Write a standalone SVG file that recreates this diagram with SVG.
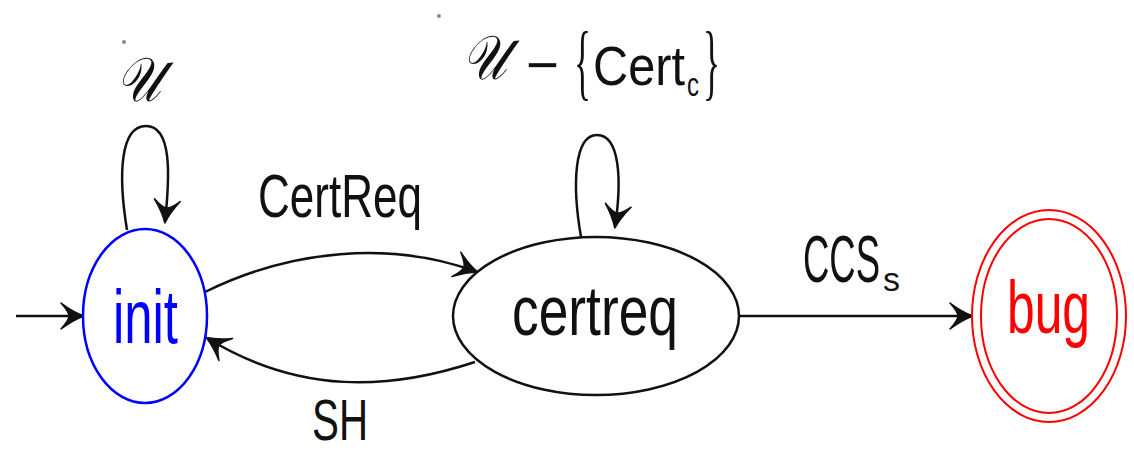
<svg xmlns="http://www.w3.org/2000/svg" width="1134" height="451" viewBox="0 0 1134 451">
  <style>
    .edge { fill: none; stroke: #111; stroke-width: 2.5; }
    .lbl { font-family: "Liberation Sans", Arial, sans-serif; fill: #111; }
    .brace { font-family: "Liberation Serif", "Times New Roman", serif; fill: #111; }
    .scr { font-family: "DejaVu Serif", "Liberation Serif", serif; font-style: italic; fill: #111; }
    .node { fill: #fff; stroke-width: 2.5; }
  </style>
  <defs>
    <!-- barbed arrowhead, tip at the path end -->
    <marker id="arrow" markerUnits="userSpaceOnUse" markerWidth="28" markerHeight="30" viewBox="-26 -15 28 30" refX="0" refY="0" orient="auto">
      <path d="M1 0 Q-10 -4 -22 -13 Q-14 -4 -14 0 Q-14 4 -22 13 Q-10 4 1 0 Z" fill="#111" stroke="#111" stroke-width="1.5" stroke-linejoin="round"/>
    </marker>
  </defs>

  <rect width="1134" height="451" fill="#fff"/>

  <!-- stray dots -->
  <circle cx="124" cy="42" r="2" fill="#888"/>
  <circle cx="439" cy="16" r="2" fill="#888"/>

  <!-- connectors -->
  <g id="connectors">
    <path class="edge" d="M16 316 L83 316" marker-end="url(#arrow)"/>
    <path class="edge" d="M127 230 C118 175 120 126 146 126 C172 126 170 175 165 222" marker-end="url(#arrow)"/>
    <path class="edge" d="M581 237 C572 185 574 135 597 135 C620 135 622 180 615 227" marker-end="url(#arrow)"/>
    <path class="edge" d="M205 292 C290 250 390 240 477 272" marker-end="url(#arrow)"/>
    <path class="edge" d="M475 362 C390 390 300 395 207 338" marker-end="url(#arrow)"/>
    <path class="edge" d="M740 316 L972 316" marker-end="url(#arrow)"/>

    <!-- edge labels -->
    <text class="scr" x="116" y="101" font-size="62" textLength="45" lengthAdjust="spacingAndGlyphs">𝒰</text>
    <text class="lbl" x="258" y="217" font-size="61" textLength="164" lengthAdjust="spacingAndGlyphs">CertReq</text>
    <text class="lbl" x="312" y="440" font-size="57" textLength="56" lengthAdjust="spacingAndGlyphs">SH</text>
    <text class="lbl" x="803" y="282" font-size="66" textLength="77" lengthAdjust="spacingAndGlyphs">CCS</text>
    <text class="lbl" x="883" y="291" font-size="34" textLength="17" lengthAdjust="spacingAndGlyphs">s</text>
    <g id="loop-label">
      <text class="scr" x="462" y="79" font-size="62" textLength="45" lengthAdjust="spacingAndGlyphs">𝒰</text>
      <text class="lbl" x="526" y="84" font-size="56" textLength="33" lengthAdjust="spacingAndGlyphs">−</text>
      <text class="brace" x="574" y="90" font-size="84" textLength="17" lengthAdjust="spacingAndGlyphs">{</text>
      <text class="lbl" x="593" y="85" font-size="56" textLength="92" lengthAdjust="spacingAndGlyphs">Cert</text>
      <text class="lbl" x="687" y="96" font-size="33" textLength="12" lengthAdjust="spacingAndGlyphs">c</text>
      <text class="brace" x="703" y="90" font-size="84" textLength="17" lengthAdjust="spacingAndGlyphs">}</text>
    </g>
  </g>

  <!-- states -->
  <g id="init">
    <ellipse class="node" cx="145" cy="316" rx="62" ry="87" stroke="#0000ff"/>
    <text x="113" y="343" font-family="Liberation Sans, Arial, sans-serif" font-size="76" fill="#0000ff" textLength="65" lengthAdjust="spacingAndGlyphs">init</text>
  </g>
  <g id="certreq">
    <ellipse class="node" cx="596" cy="316" rx="143" ry="79" stroke="#111"/>
    <text x="512" y="335" font-family="Liberation Sans, Arial, sans-serif" font-size="71" fill="#111" textLength="166" lengthAdjust="spacingAndGlyphs">certreq</text>
  </g>
  <g id="bug">
    <ellipse cx="1049" cy="316" rx="77" ry="106" fill="#fff" stroke="#ff0000" stroke-width="2"/>
    <ellipse cx="1049" cy="316" rx="68" ry="97" fill="none" stroke="#ff0000" stroke-width="2"/>
    <text x="1007" y="333" font-family="Liberation Sans, Arial, sans-serif" font-size="75" fill="#ff0000" textLength="83" lengthAdjust="spacingAndGlyphs">bug</text>
  </g>
</svg>
